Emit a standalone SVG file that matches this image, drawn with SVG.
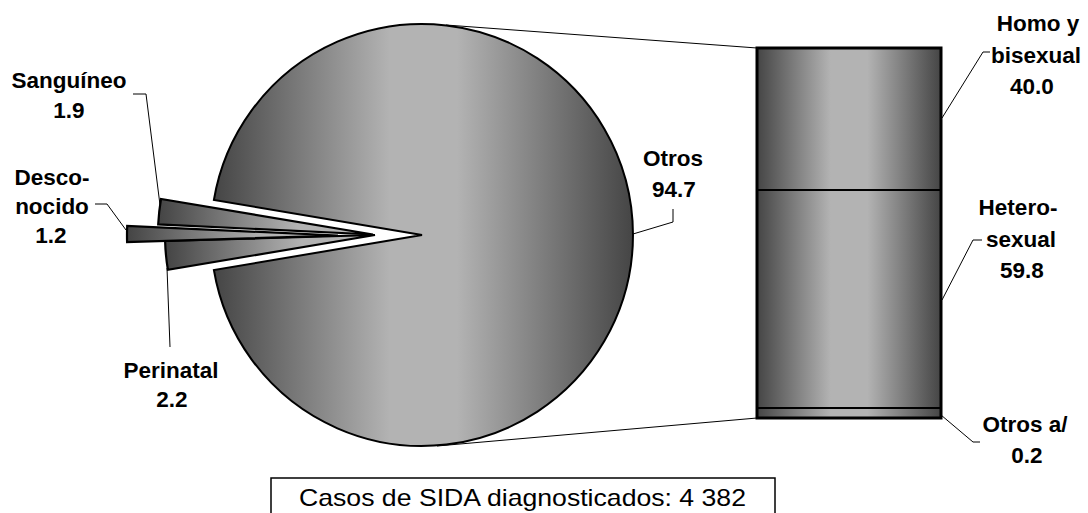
<svg xmlns="http://www.w3.org/2000/svg" width="1088" height="513" viewBox="0 0 1088 513">
<defs>
<linearGradient id="gPie" x1="0" y1="0" x2="1" y2="0">
<stop offset="0" stop-color="#454545"/>
<stop offset="0.42" stop-color="#b3b3b3"/>
<stop offset="0.58" stop-color="#b3b3b3"/>
<stop offset="1" stop-color="#454545"/>
</linearGradient>
<linearGradient id="gBar" x1="0" y1="0" x2="1" y2="0">
<stop offset="0" stop-color="#454545"/>
<stop offset="0.4" stop-color="#b3b3b3"/>
<stop offset="0.6" stop-color="#b3b3b3"/>
<stop offset="1" stop-color="#454545"/>
</linearGradient>
<linearGradient id="gSlice" x1="0" y1="0" x2="1" y2="0">
<stop offset="0" stop-color="#444444"/>
<stop offset="0.65" stop-color="#b3b3b3"/>
<stop offset="1" stop-color="#b3b3b3"/>
</linearGradient>
</defs>
<style>
.pie{fill:url(#gPie);stroke:#000;stroke-width:2;stroke-linejoin:miter}
.slice{fill:url(#gSlice);stroke:#000;stroke-width:2.2;stroke-linejoin:miter}
.bar{fill:url(#gBar);stroke:#000;stroke-width:2}
.lead{fill:none;stroke:#000;stroke-width:1}
.lbl{font-family:"Liberation Sans",Arial,sans-serif;font-weight:bold;font-size:22.5px;fill:#000;text-anchor:middle}
.cap{font-family:"Liberation Sans",Arial,sans-serif;font-size:24px;fill:#000}
</style>
<rect width="1088" height="513" fill="#fff"/>
<g id="connectors">
<line class="lead" x1="446" y1="25" x2="757" y2="48"/>
<line class="lead" x1="437" y1="446" x2="757" y2="418"/>
<polyline class="lead" points="133,94 146,94 160,205"/>
<polyline class="lead" points="95,204 107,204 126,230"/>
<polyline class="lead" points="170,347 167,268"/>
<polyline class="lead" points="673,209 673,222 633,234"/>
<polyline class="lead" points="990,52 983,52 942,118"/>
<polyline class="lead" points="982,240 973,240 942,300"/>
<polyline class="lead" points="941,415 973,442 980,442"/>
</g>
<g id="pie-otros">
<path class="pie" d="M422,235 L213.9,200 A211,211 0 1 1 213.9,270 Z"/>
<text class="lbl" x="673" y="166">Otros</text>
<text class="lbl" x="674" y="197">94.7</text>
</g>
<g id="slice-sanguineo">
<path class="slice" d="M373,234.5 L161,199 A215,215 0 0 0 158.2,224.4 Z"/>
<text class="lbl" x="69" y="88">Sanguíneo</text>
<text class="lbl" x="69" y="118">1.9</text>
</g>
<g id="slice-perinatal">
<path class="slice" d="M375,235 L165.1,240.9 A210,210 0 0 0 167.9,269.8 Z"/>
<text class="lbl" x="171" y="378">Perinatal</text>
<text class="lbl" x="172" y="407">2.2</text>
</g>
<g id="slice-desconocido">
<path class="slice" d="M338,235.5 L127.2,226 A211,211 0 0 0 127.1,242 Z"/>
<text class="lbl" x="52" y="185">Desco-</text>
<text class="lbl" x="52" y="214">nocido</text>
<text class="lbl" x="51" y="243">1.2</text>
</g>
<g id="bar-homo">
<rect class="bar" x="757" y="48" width="184" height="142"/>
<text class="lbl" x="1038" y="31">Homo y</text>
<text class="lbl" x="1036" y="63">bisexual</text>
<text class="lbl" x="1032" y="94">40.0</text>
</g>
<g id="bar-hetero">
<rect class="bar" x="757" y="190" width="184" height="218"/>
<text class="lbl" x="1018" y="215">Hetero-</text>
<text class="lbl" x="1021" y="247">sexual</text>
<text class="lbl" x="1022" y="278">59.8</text>
</g>
<g id="bar-otros">
<rect class="bar" x="757" y="408" width="184" height="10"/>
<text class="lbl" x="1025" y="432">Otros a/</text>
<text class="lbl" x="1027" y="463">0.2</text>
</g>
<rect x="757" y="48" width="184" height="370" fill="none" stroke="#000" stroke-width="3"/>
<g id="caption">
<rect x="271" y="478" width="504" height="45" fill="#fff" stroke="#000" stroke-width="1.5"/>
<text class="cap" x="299" y="505.5" textLength="447" lengthAdjust="spacingAndGlyphs">Casos de SIDA diagnosticados: 4 382</text>
</g>
</svg>
